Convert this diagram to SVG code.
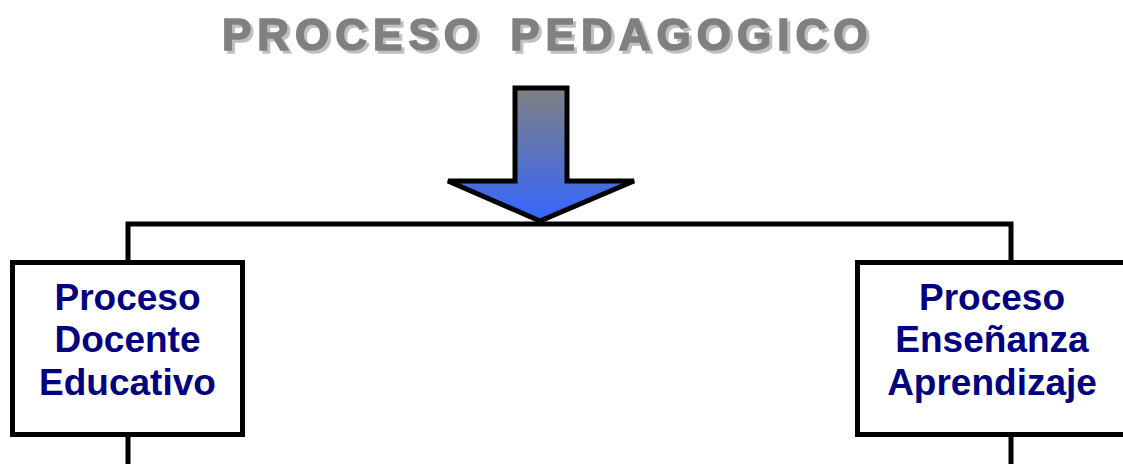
<svg xmlns="http://www.w3.org/2000/svg" width="1123" height="464" viewBox="0 0 1123 464">
<defs>
<linearGradient id="arrowGrad" x1="0" y1="0" x2="0" y2="1">
<stop offset="0" stop-color="#808080"/>
<stop offset="1" stop-color="#3366ff"/>
</linearGradient>
<filter id="shadow" x="-5%" y="-20%" width="110%" height="140%">
<feFlood flood-color="#c0c0c0" result="c"/>
<feComposite in="c" in2="SourceAlpha" operator="in" result="s"/>
<feOffset in="s" dx="3" dy="3" result="o"/>
<feMerge><feMergeNode in="o"/><feMergeNode in="SourceGraphic"/></feMerge>
</filter>
<style>
.title{font-family:"Liberation Sans",Arial,sans-serif;font-weight:bold;font-size:44px;letter-spacing:6px;word-spacing:8px;fill:#808080;stroke:#808080;stroke-width:1.6px}
.lbl{font-family:"Liberation Sans",Arial,sans-serif;font-weight:bold;font-size:37px;fill:#000080;text-anchor:middle}
.box{fill:#ffffff;stroke:#000000;stroke-width:5}
.conn{fill:none;stroke:#000000;stroke-width:5}
</style>
</defs>
<rect width="1123" height="464" fill="#ffffff"/>
<g id="title" filter="url(#shadow)">
<text class="title" x="222" y="50">PROCESO PEDAGOGICO</text>
</g>
<g id="connectors">
<polyline class="conn" points="128,464 128,224 1011,224 1011,464"/>
</g>
<g id="arrow">
<polygon points="515,88 567,88 567,181 634,181 540,221 448,181 515,181" fill="url(#arrowGrad)" stroke="#000000" stroke-width="5" stroke-linejoin="miter"/>
</g>
<g id="node-docente">
<rect class="box" x="12.5" y="262.5" width="230" height="172"/>
<text class="lbl" x="127.5" y="310">Proceso</text>
<text class="lbl" x="127.5" y="352">Docente</text>
<text class="lbl" x="127.5" y="395">Educativo</text>
</g>
<g id="node-ensenanza">
<rect class="box" x="857.5" y="262.5" width="272" height="172"/>
<text class="lbl" x="992" y="310">Proceso</text>
<text class="lbl" x="992" y="352">Enseñanza</text>
<text class="lbl" x="992" y="395">Aprendizaje</text>
</g>
</svg>
